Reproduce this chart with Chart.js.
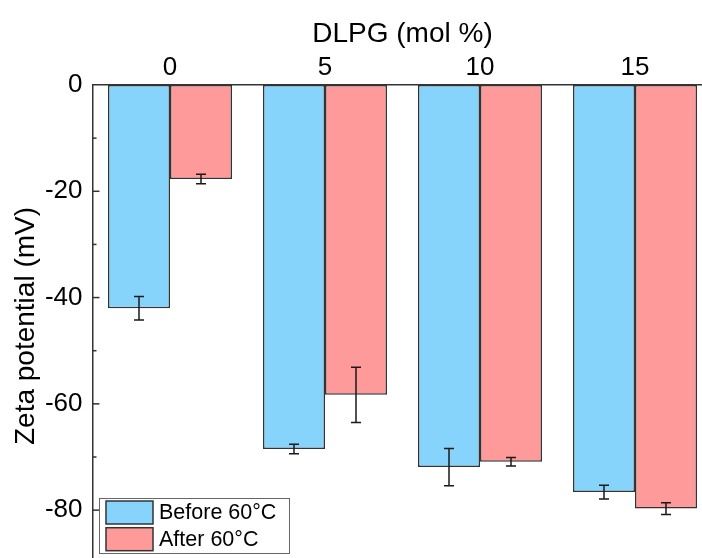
<!DOCTYPE html>
<html>
<head>
<meta charset="utf-8">
<script src="https://cdn.jsdelivr.net/npm/chart.js@4/dist/chart.umd.min.js"></script>
<style>
  html, body { margin: 0; padding: 0; background: #fff; overflow: hidden; }
</style>
</head>
<body>
<canvas id="zeta" width="730" height="650"></canvas>
<script>
// values
var doses = ["0", "5", "10", "15"];
var before = [-42.0, -68.5, -71.9, -76.6];
var beforeErr = [2.2, 0.9, 3.5, 1.3];
var after = [-17.7, -58.3, -70.9, -79.7];
var afterErr = [0.9, 5.2, 0.8, 1.1];
var minorTicks = [-10, -30, -50, -70, -90];

var FONT = "'Liberation Sans', Arial, sans-serif";

// error bars drawn through the y scale
var errorBars = {
  id: "errorBars",
  afterDatasetsDraw: function (chart) {
    var ctx = chart.ctx;
    var y = chart.scales.y;
    var errs = [beforeErr, afterErr];
    ctx.save();
    ctx.strokeStyle = "#1a1a1a";
    ctx.lineWidth = 1.5;
    chart.data.datasets.forEach(function (ds, di) {
      var meta = chart.getDatasetMeta(di);
      meta.data.forEach(function (bar, i) {
        var v = ds.data[i], e = errs[di][i];
        var top = y.getPixelForValue(v + e);
        var bot = y.getPixelForValue(v - e);
        var x = bar.x;
        ctx.beginPath();
        ctx.moveTo(x, top); ctx.lineTo(x, bot);
        ctx.moveTo(x - 5, top); ctx.lineTo(x + 5, top);
        ctx.moveTo(x - 5, bot); ctx.lineTo(x + 5, bot);
        ctx.stroke();
      });
    });
    ctx.restore();
  }
};

// inward major/minor ticks on the y axis, plus the boxed legend
var axisExtras = {
  id: "axisExtras",
  afterDraw: function (chart) {
    var ctx = chart.ctx;
    var y = chart.scales.y;
    var left = chart.chartArea.left;
    ctx.save();
    ctx.strokeStyle = "#333";
    ctx.lineWidth = 1.5;
    y.ticks.forEach(function (t) {
      if (t.value % 20 !== 0 || t.value === 0) return;
      var p = y.getPixelForValue(t.value);
      ctx.beginPath(); ctx.moveTo(left, p); ctx.lineTo(left + 7, p); ctx.stroke();
    });
    minorTicks.forEach(function (v) {
      var p = y.getPixelForValue(v);
      ctx.beginPath(); ctx.moveTo(left, p); ctx.lineTo(left + 4, p); ctx.stroke();
    });

    // legend
    ctx.fillStyle = "#fff";
    ctx.fillRect(99, 498, 190, 55);
    ctx.strokeStyle = "#666";
    ctx.lineWidth = 1;
    ctx.strokeRect(99.5, 498.5, 190, 55);
    ctx.font = "21.5px " + FONT;
    ctx.textBaseline = "middle";
    chart.data.datasets.forEach(function (ds, i) {
      var sy = 501 + i * 26.7;
      ctx.fillStyle = ds.backgroundColor;
      ctx.fillRect(106, sy, 47, 23);
      ctx.strokeStyle = "#333";
      ctx.lineWidth = 1.5;
      ctx.strokeRect(106, sy, 47, 23);
      ctx.fillStyle = "#000";
      ctx.fillText(ds.label, 159, sy + 12.5);
    });
    ctx.restore();
  }
};

new Chart(document.getElementById("zeta"), {
  type: "bar",
  data: {
    labels: doses,
    datasets: [
      {
        label: "Before 60°C",
        data: before,
        backgroundColor: "#86D4FC",
        borderColor: "#333",
        borderWidth: 1.5,
        borderSkipped: false
      },
      {
        label: "After 60°C",
        data: after,
        backgroundColor: "#FF9A9A",
        borderColor: "#333",
        borderWidth: 1.5,
        borderSkipped: false
      }
    ]
  },
  options: {
    responsive: false,
    animation: false,
    devicePixelRatio: 1,
    layout: { padding: { left: 0, top: 0, right: 17.5, bottom: 83 } },
    datasets: { bar: { categoryPercentage: 0.8, barPercentage: 1.0 } },
    plugins: { legend: { display: false }, tooltip: { enabled: false } },
    scales: {
      x: {
        position: "top",
        grid: { display: false, drawTicks: false },
        border: { display: true, color: "#333", width: 1.5 },
        ticks: { color: "#000", font: { family: FONT, size: 26 }, padding: 2 },
        title: {
          display: true,
          text: "DLPG (mol %)",
          color: "#000",
          font: { family: FONT, size: 28 },
          padding: { top: 17, bottom: 0 }
        },
        afterFit: function (scale) { scale.height = 85; }
      },
      y: {
        min: -90.7,
        max: 0,
        grid: { display: false, drawTicks: false },
        border: { display: true, color: "#333", width: 1.5 },
        ticks: {
          stepSize: 20,
          color: "#000",
          font: { family: FONT, size: 26 },
          padding: 10,
          callback: function (v) { return v % 20 === 0 ? v : ""; }
        },
        title: {
          display: true,
          text: "Zeta potential (mV)",
          color: "#000",
          font: { family: FONT, size: 28 },
          padding: { top: 9, bottom: 0 }
        },
        afterFit: function (scale) { scale.width = 92.5; }
      }
    }
  },
  plugins: [errorBars, axisExtras]
});
</script>
</body>
</html>
